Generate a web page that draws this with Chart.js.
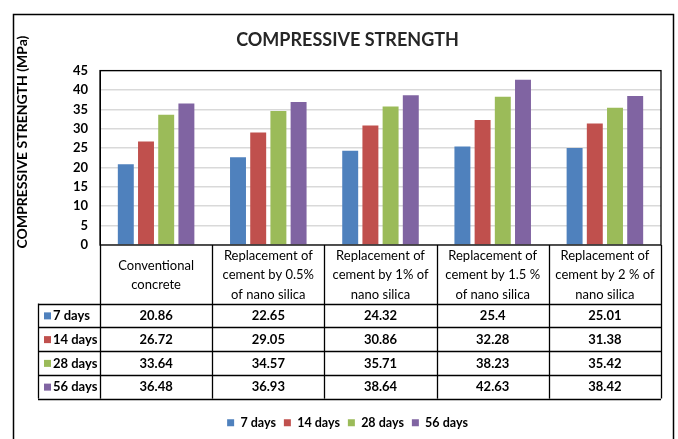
<!DOCTYPE html>
<html>
<head>
<meta charset="utf-8">
<script src="https://cdn.jsdelivr.net/npm/chart.js@4.4.1/dist/chart.umd.min.js"></script>
<style>
  html, body { margin: 0; padding: 0; background: #ffffff; }
  #wrap { width: 678px; height: 439px; position: relative; }
</style>
</head>
<body>
<div id="wrap"><canvas id="c" width="678" height="439"></canvas></div>
<script>
// ---- data ----
const categories = [
  ["Conventional", "concrete"],
  ["Replacement of", "cement by 0.5%", "of nano silica"],
  ["Replacement of", "cement by 1% of", "nano silica"],
  ["Replacement of", "cement by 1.5 %", "of nano silica"],
  ["Replacement of", "cement by 2 % of", "nano silica"]
];
const seriesNames = ["7 days", "14 days", "28 days", "56 days"];
const days7  = [20.86, 22.65, 24.32, 25.4, 25.01];
const days14 = [26.72, 29.05, 30.86, 32.28, 31.38];
const days28 = [33.64, 34.57, 35.71, 38.23, 35.42];
const days56 = [36.48, 36.93, 38.64, 42.63, 38.42];
const valueLabels = [
  ["20.86", "22.65", "24.32", "25.4", "25.01"],
  ["26.72", "29.05", "30.86", "32.28", "31.38"],
  ["33.64", "34.57", "35.71", "38.23", "35.42"],
  ["36.48", "36.93", "38.64", "42.63", "38.42"]
];
const chartTitle = "COMPRESSIVE STRENGTH";
const yTitle = "COMPRESSIVE STRENGTH (MPa)";
const colors = ["#4F81BD", "#C0504D", "#9BBB59", "#8064A2"];

const FONT = "Lato, 'Open Sans', sans-serif";

const HEADER_H = 58.5, ROW_H = 23.75, TABLE_LEFT_W = 62;

const tablePlugin = {
  id: 'tablePlugin',
  beforeDraw(chart) {
    const ctx = chart.ctx;
    ctx.save();
    ctx.fillStyle = '#ffffff';
    ctx.fillRect(0, 0, chart.width, chart.height);
    ctx.strokeStyle = '#000000';
    ctx.lineWidth = 1.5;
    ctx.strokeRect(13.5, 14.5, 660, 500);
    ctx.restore();
  },
  afterDraw(chart) {
    const ctx = chart.ctx;
    const a = chart.chartArea;
    const n = categories.length;
    const w = (a.right - a.left) / n;
    const top = a.bottom;
    const hb = top + HEADER_H;
    const bottom = hb + ROW_H * seriesNames.length;
    const tl = a.left - TABLE_LEFT_W;
    ctx.save();
    // y-axis title
    ctx.fillStyle = '#000000';
    ctx.font = "bold 14px " + FONT;
    ctx.textAlign = 'center';
    ctx.textBaseline = 'middle';
    ctx.translate(22, 142);
    ctx.rotate(-Math.PI / 2);
    ctx.fillText(yTitle, 0, 0);
    ctx.setTransform(1, 0, 0, 1, 0, 0);

    ctx.strokeStyle = '#000000';
    ctx.lineWidth = 1.3;
    // plot frame
    ctx.strokeRect(a.left, a.top, a.right - a.left, a.bottom - a.top);
    ctx.beginPath();
    for (let i = 0; i <= n; i++) {
      const x = Math.round(a.left + i * w) + 0.5;
      ctx.moveTo(x, top); ctx.lineTo(x, bottom);
    }
    ctx.moveTo(tl + 0.5, hb); ctx.lineTo(tl + 0.5, bottom);
    for (let r = 0; r <= seriesNames.length; r++) {
      const y = Math.round(hb + r * ROW_H) + 0.5;
      ctx.moveTo(tl, y); ctx.lineTo(a.right, y);
    }
    ctx.stroke();
    // header text
    ctx.fillStyle = '#000000';
    ctx.textAlign = 'center';
    ctx.textBaseline = 'middle';
    ctx.font = "13px " + FONT;
    categories.forEach((lines, i) => {
      const cx = a.left + (i + 0.5) * w;
      const lh = 19.5;
      const y0 = top + HEADER_H / 2 - (lines.length - 1) * lh / 2 + 1;
      lines.forEach((t, k) => ctx.fillText(t, cx, y0 + k * lh));
    });
    // rows
    seriesNames.forEach((s, r) => {
      const cy = hb + r * ROW_H + ROW_H / 2 + 0.5;
      ctx.fillStyle = colors[r];
      ctx.fillRect(tl + 6, cy - 3.5, 7, 7);
      ctx.fillStyle = '#000000';
      ctx.textAlign = 'left';
      ctx.font = "bold 13px " + FONT;
      ctx.fillText(s, tl + 15, cy);
      ctx.textAlign = 'center';
      ctx.font = "bold 13px " + FONT;
      valueLabels[r].forEach((v, i) => {
        ctx.fillText(v, a.left + (i + 0.5) * w, cy);
      });
    });
    ctx.restore();
  }
};

new Chart(document.getElementById('c'), {
  type: 'bar',
  data: {
    labels: categories.map(l => l.join(' ')),
    datasets: [
      { label: seriesNames[0], data: days7,  backgroundColor: colors[0] },
      { label: seriesNames[1], data: days14, backgroundColor: colors[1] },
      { label: seriesNames[2], data: days28, backgroundColor: colors[2] },
      { label: seriesNames[3], data: days56, backgroundColor: colors[3] }
    ]
  },
  options: {
    responsive: false,
    animation: false,
    devicePixelRatio: 1,
    layout: { padding: { left: 34, right: 17, top: 0, bottom: 0 } },
    datasets: { bar: { categoryPercentage: 0.72, barPercentage: 0.79, borderWidth: 0 } },
    plugins: {
      title: {
        display: true,
        text: chartTitle,
        color: '#262626',
        font: { family: FONT, size: 18, weight: 'bold' },
        padding: { top: 29, bottom: 20 }
      },
      legend: {
        display: true,
        position: 'bottom',
        labels: {
          color: '#000000',
          font: { family: FONT, size: 12.5, weight: 'bold' },
          boxWidth: 7, boxHeight: 7, padding: 8
        }
      },
      tooltip: { enabled: false }
    },
    scales: {
      x: {
        grid: { display: false },
        border: { display: false },
        ticks: { display: false },
        afterFit(axis) { axis.height = HEADER_H + ROW_H * 4 + 10; }
      },
      y: {
        min: 0, max: 45,
        ticks: { stepSize: 5, color: '#000000', padding: 12,
                 font: { family: FONT, size: 13, weight: 'bold' } },
        grid: { color: '#d9d9d9', lineWidth: 1.5, drawTicks: false },
        border: { display: true, color: '#000000' },
        title: { display: false },
        afterFit(axis) { axis.width = 66; }
      }
    }
  },
  plugins: [tablePlugin]
});
</script>
</body>
</html>
